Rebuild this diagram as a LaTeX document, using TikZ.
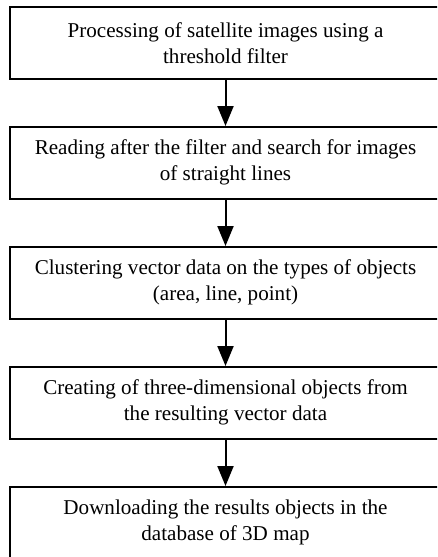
\documentclass[tikz,border=0pt]{standalone}
\usepackage{fontspec}
\setmainfont{Liberation Serif}
\usetikzlibrary{arrows.meta,positioning}

\begin{document}
\begin{tikzpicture}[
    x=1pt, y=1pt,
    stepbox/.style={
        rectangle,
        draw=black,
        line width=2pt,
        minimum width=431pt,
        minimum height=71.5pt,
        align=center,
        font=\fontsize{21.1}{26}\selectfont
    },
    flow/.style={
        -{Triangle[length=20pt,width=16pt]},
        line width=2pt
    },
    node distance=46.5pt
]
% --- visible area ---
\clip (0,0) rectangle (437,-557);

% --- processing steps ---
\node[stepbox] (filter) at (225.5,-42.75) {Processing of satellite images using a\\threshold filter};
\node[stepbox, below=of filter] (search) {Reading after the filter and search for images\\of straight lines};
\node[stepbox, below=of search] (cluster) {Clustering vector data on the types of objects\\(area, line, point)};
\node[stepbox, below=of cluster] (objects) {Creating of three-dimensional objects from\\the resulting vector data};
\node[stepbox, below=of objects] (upload) {Downloading the results objects in the\\database of 3D map};

% --- arrows between steps ---
\foreach \a/\b in {filter/search, search/cluster, cluster/objects, objects/upload}
    \draw[flow] (\a) -- (\b);
\end{tikzpicture}
\end{document}
